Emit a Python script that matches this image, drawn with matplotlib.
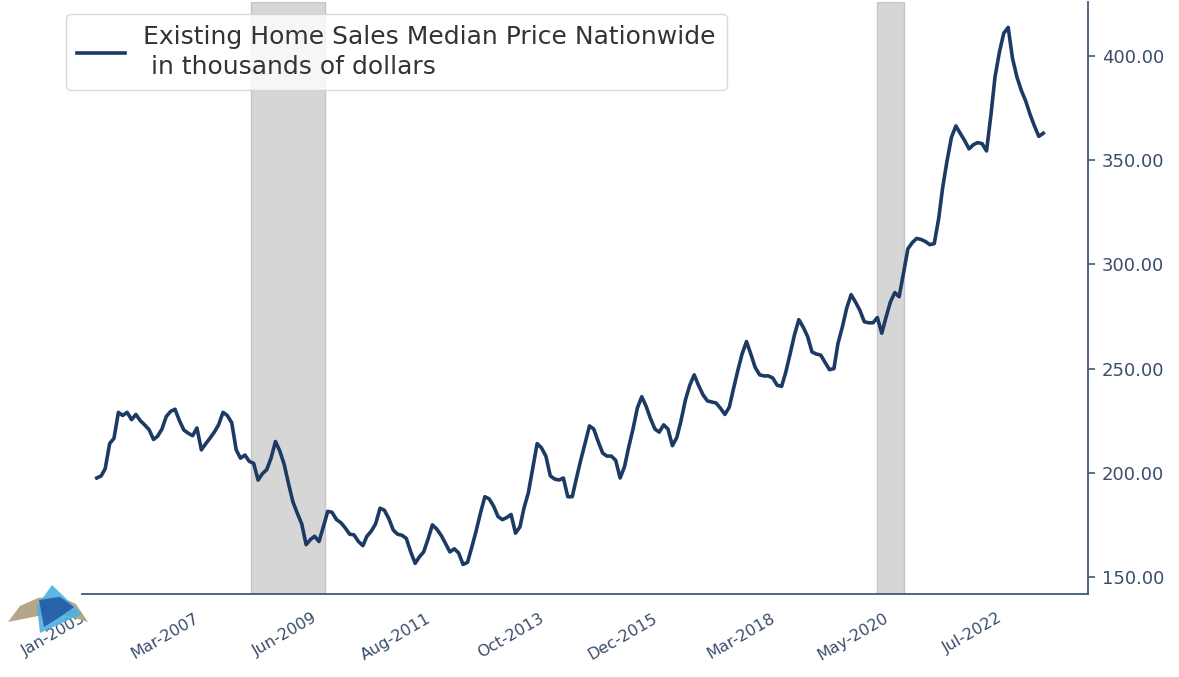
import numpy as np
import pandas as pd
import matplotlib
matplotlib.use("Agg")
import matplotlib.pyplot as plt
import matplotlib.transforms as mtrans
from matplotlib.patches import Polygon

# monthly median price, thousands of dollars, Jan-2005 .. Feb-2023
p2005 = [197.5, 198.5, 202.0, 214.0, 216.5, 229.0, 227.5, 229.0, 225.5, 228.0, 225.0, 223.0]
p2006 = [220.7, 216.0, 217.5, 221.0, 227.0, 229.5, 230.5, 225.0, 220.5, 219.0, 217.8, 221.5]
p2007 = [211.0, 214.0, 216.5, 219.5, 223.0, 229.0, 227.5, 224.0, 211.0, 207.0, 208.5, 205.5]
p2008 = [204.5, 196.5, 199.5, 201.5, 207.0, 215.0, 210.5, 204.0, 194.5, 186.0, 180.5, 175.5]
p2009 = [165.5, 168.0, 169.5, 167.0, 174.0, 181.5, 181.0, 177.5, 176.0, 173.5, 170.5, 170.2]
p2010 = [167.0, 165.0, 169.5, 172.0, 175.5, 183.0, 182.0, 178.0, 172.5, 170.5, 170.0, 168.5]
p2011 = [162.0, 156.5, 159.5, 162.0, 168.0, 175.0, 173.0, 170.0, 166.0, 162.0, 163.5, 161.5]
p2012 = [156.0, 157.0, 164.0, 172.0, 180.5, 188.5, 187.5, 184.0, 179.0, 177.5, 178.5, 180.0]
p2013 = [171.0, 174.0, 183.0, 190.5, 202.0, 214.0, 212.0, 208.0, 198.5, 197.0, 196.5, 197.5]
p2014 = [188.5, 188.5, 197.0, 206.0, 214.0, 222.5, 221.0, 215.0, 209.5, 208.0, 208.0, 206.0]
p2015 = [197.5, 203.0, 212.0, 221.0, 231.0, 236.5, 232.0, 226.0, 221.0, 219.5, 223.0, 221.0]
p2016 = [213.0, 217.0, 225.0, 235.0, 242.0, 247.0, 242.0, 237.5, 234.5, 234.0, 233.5, 231.0]
p2017 = [228.0, 231.5, 240.0, 249.0, 257.0, 263.0, 257.0, 250.5, 247.0, 246.5, 246.5, 245.5]
p2018 = [242.0, 241.5, 248.0, 257.0, 266.0, 273.5, 270.0, 265.5, 258.0, 257.0, 256.5, 253.0]
p2019 = [249.5, 250.0, 262.0, 270.0, 279.0, 285.5, 282.0, 278.0, 272.5, 272.0, 272.0, 274.5]
p2020 = [267.0, 275.0, 282.0, 286.5, 284.5, 296.0, 307.5, 310.5, 312.5, 312.0, 311.0, 309.5]
p2021 = [310.0, 322.0, 337.0, 350.0, 361.0, 366.5, 363.0, 359.5, 355.5, 357.5, 358.5, 358.0]
p2022 = [354.5, 372.0, 390.0, 402.0, 411.0, 413.8, 399.0, 390.0, 383.5, 378.5, 372.0, 366.5]
p2023 = [361.5, 363.0]

prices = (p2005 + p2006 + p2007 + p2008 + p2009 + p2010 + p2011 + p2012 + p2013
          + p2014 + p2015 + p2016 + p2017 + p2018 + p2019 + p2020 + p2021 + p2022 + p2023)
dates = pd.date_range("2005-01-01", periods=len(prices), freq="MS")

recessions = [("2007-12-10", "2009-05-15"), ("2019-12-01", "2020-06-01")]
tick_dates = ["2005-01-01", "2007-03-01", "2009-06-01", "2011-08-01", "2013-10-01",
              "2015-12-01", "2018-03-01", "2020-05-01", "2022-07-01"]
tick_labels = ["Jan-2005", "Mar-2007", "Jun-2009", "Aug-2011", "Oct-2013",
               "Dec-2015", "Mar-2018", "May-2020", "Jul-2022"]

line_col = "#1c3a64"
axis_col = "#41597a"
text_col = "#3a4d6b"

fig = plt.figure(figsize=(11.79, 6.77), dpi=100)
ax = fig.add_axes([82 / 1179, 1 - 594 / 677, (1088 - 82) / 1179, (594 - 2) / 677])

for start, end in recessions:
    ax.axvspan(pd.Timestamp(start), pd.Timestamp(end), facecolor="#d6d6d6",
               edgecolor="#c4c4c4", lw=1, zorder=0)

ax.plot(dates, prices, color=line_col, lw=2.6, zorder=3,
        label="Existing Home Sales Median Price Nationwide\n in thousands of dollars")

ax.set_xlim(pd.Timestamp("2004-09-20"), pd.Timestamp("2023-12-10"))
ax.set_ylim(141.8, 426)

ax.yaxis.tick_right()
ax.set_yticks([150, 200, 250, 300, 350, 400])
ax.yaxis.set_major_formatter(matplotlib.ticker.FormatStrFormatter("%.2f"))
ax.tick_params(axis="y", colors=axis_col, labelcolor=text_col, labelsize=13,
               length=5, width=1.2, pad=5, direction="out")

ax.set_xticks([pd.Timestamp(d) for d in tick_dates])
ax.set_xticklabels(tick_labels, rotation=30, ha="right")
ax.tick_params(axis="x", length=0, labelcolor=text_col, labelsize=11.5, pad=12)
shift = mtrans.ScaledTranslation(-8 / 100, 0, fig.dpi_scale_trans)
for lab in ax.get_xticklabels():
    lab.set_transform(lab.get_transform() + shift)

for side in ["left", "top"]:
    ax.spines[side].set_visible(False)
for side in ["bottom", "right"]:
    ax.spines[side].set_color(axis_col)
    ax.spines[side].set_linewidth(1.3)

leg = ax.legend(loc="upper left", bbox_to_anchor=(-0.016, 0.98), borderaxespad=0,
                fontsize=18, handlelength=1.9, handletextpad=0.75, frameon=True,
                fancybox=True, framealpha=0.8, edgecolor="#d0d0d0", borderpad=0.45)
for t in leg.get_texts():
    t.set_color("#333333")
    t.set_linespacing(1.3)

# small logo in the lower left corner
lax = fig.add_axes([0, 0, 1, 1], zorder=5)
lax.set_xlim(0, 1179)
lax.set_ylim(677, 0)
lax.axis("off")
lax.add_patch(Polygon([(8, 622), (20, 606), (38, 598), (58, 596), (76, 604), (88, 622),
                       (68, 616), (48, 614), (28, 618)], closed=True, fc="#b5a58a", ec="none"))
lax.add_patch(Polygon([(52, 585), (82, 614), (40, 633), (37, 606)], closed=True,
                      fc="#4bb2e2", ec="none", alpha=0.9))
lax.add_patch(Polygon([(39, 600), (60, 597), (74, 607), (60, 617), (44, 627)], closed=True,
                      fc="#1f56a3", ec="none", alpha=0.85))

fig.savefig("out.png", dpi=100)
